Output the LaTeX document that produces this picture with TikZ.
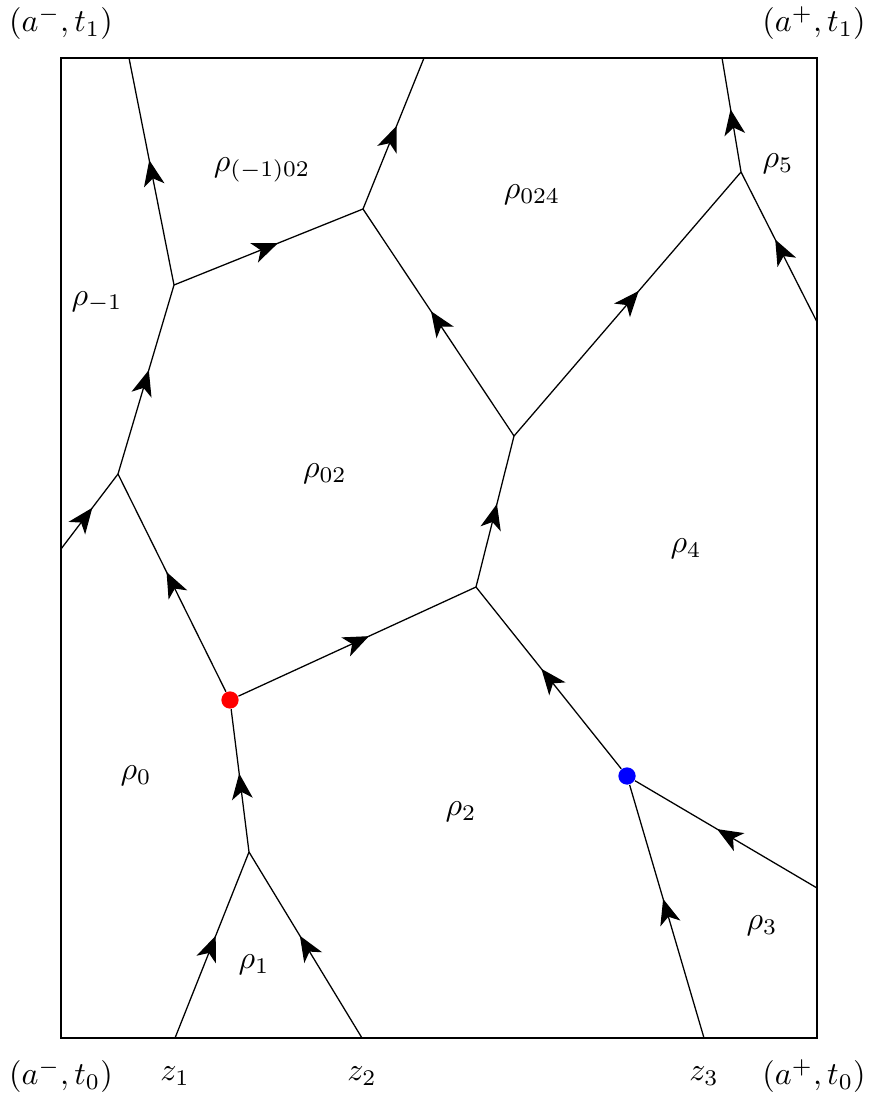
\documentclass[tikz,border=0pt]{standalone}
\usepackage{amsmath}
\usetikzlibrary{arrows.meta,decorations.markings}

\tikzset{
  flow/.style={postaction={decorate},
    decoration={markings,mark=at position 0.55 with {\arrow{Stealth[length=8pt,width=6.5pt,inset=2.2pt]}}}},
  vdot/.style={circle,fill,inner sep=0pt,minimum size=5.4pt}
}

\begin{document}
\begin{tikzpicture}[scale=0.1098]
            \tikzstyle{every node}+=[inner sep=0pt]
            \useasboundingbox (0,0) rectangle (86.9,-109.9);
            \draw [black] (6.1,-5.8) rectangle (81.7,-103.8);
            % boundary points
            \coordinate (z1) at (17.5,-103.8);
            \coordinate (z2) at (36.2,-103.8);
            \coordinate (z3) at (70.4,-103.8);
            \coordinate (l1) at (6.1,-54.9);
            \coordinate (t1) at (12.9,-5.8);
            \coordinate (t2) at (42.4,-5.8);
            \coordinate (t3) at (72.2,-5.8);
            \coordinate (r1) at (81.7,-32.2);
            \coordinate (r2) at (81.7,-88.8);
            % inner vertices
            \coordinate (v1) at (24.9,-85.2);
            \coordinate (v2) at (11.8,-47.4);
            \coordinate (v3) at (17.4,-28.5);
            \coordinate (v4) at (36.3,-20.9);
            \coordinate (v5) at (51.4,-43.6);
            \coordinate (v6) at (47.6,-58.7);
            \coordinate (v7) at (74.1,-17.2);
            \node [vdot,red] (red) at (23.0,-70.0) {};
            \node [vdot,blue] (blue) at (62.7,-77.6) {};
            % edges
            \draw [flow] (z1) -- (v1);
            \draw [flow] (z2) -- (v1);
            \draw [flow] (v1) -- (red);
            \draw [flow] (red) -- (v2);
            \draw [flow] (red) -- (v6);
            \draw [flow] (l1) -- (v2);
            \draw [flow] (v2) -- (v3);
            \draw [flow] (v3) -- (t1);
            \draw [flow] (v3) -- (v4);
            \draw [flow] (v4) -- (t2);
            \draw [flow] (v5) -- (v4);
            \draw [flow] (v6) -- (v5);
            \draw [flow] (v5) -- (v7);
            \draw [flow] (blue) -- (v6);
            \draw [flow] (r2) -- (blue);
            \draw [flow] (z3) -- (blue);
            \draw [flow] (v7) -- (t3);
            \draw [flow] (r1) -- (v7);
            % regions
            \node (rm102) at (26.2,-17.0) {$\rho_{(-1)02}$};
            \node (r024) at (53.2,-19.5) {$\rho_{024}$};
            \node (r5) at (77.8,-16.4) {$\rho_5$};
            \node (rm1) at (9.7,-30.2) {$\rho_{-1}$};
            \node (r02) at (32.5,-47.4) {$\rho_{02}$};
            \node (r4) at (68.6,-54.9) {$\rho_4$};
            \node (r0) at (13.6,-77.6) {$\rho_0$};
            \node (r2) at (46.1,-81.2) {$\rho_2$};
            \node (r3) at (76.2,-92.6) {$\rho_3$};
            \node (r1) at (25.4,-96.5) {$\rho_1$};
            % corners and marked points
            \node (ctl) at (6.1,-2.3) {$(a^-,t_1)$};
            \node (ctr) at (81.4,-2.3) {$(a^+,t_1)$};
            \node (cbl) at (6.1,-107.6) {$(a^-,t_0)$};
            \node (cbr) at (81.4,-107.6) {$(a^+,t_0)$};
            \node (lz1) at (17.5,-107.6) {$z_1$};
            \node (lz2) at (36.2,-107.6) {$z_2$};
            \node (lz3) at (70.4,-107.6) {$z_3$};
\end{tikzpicture}
\end{document}
